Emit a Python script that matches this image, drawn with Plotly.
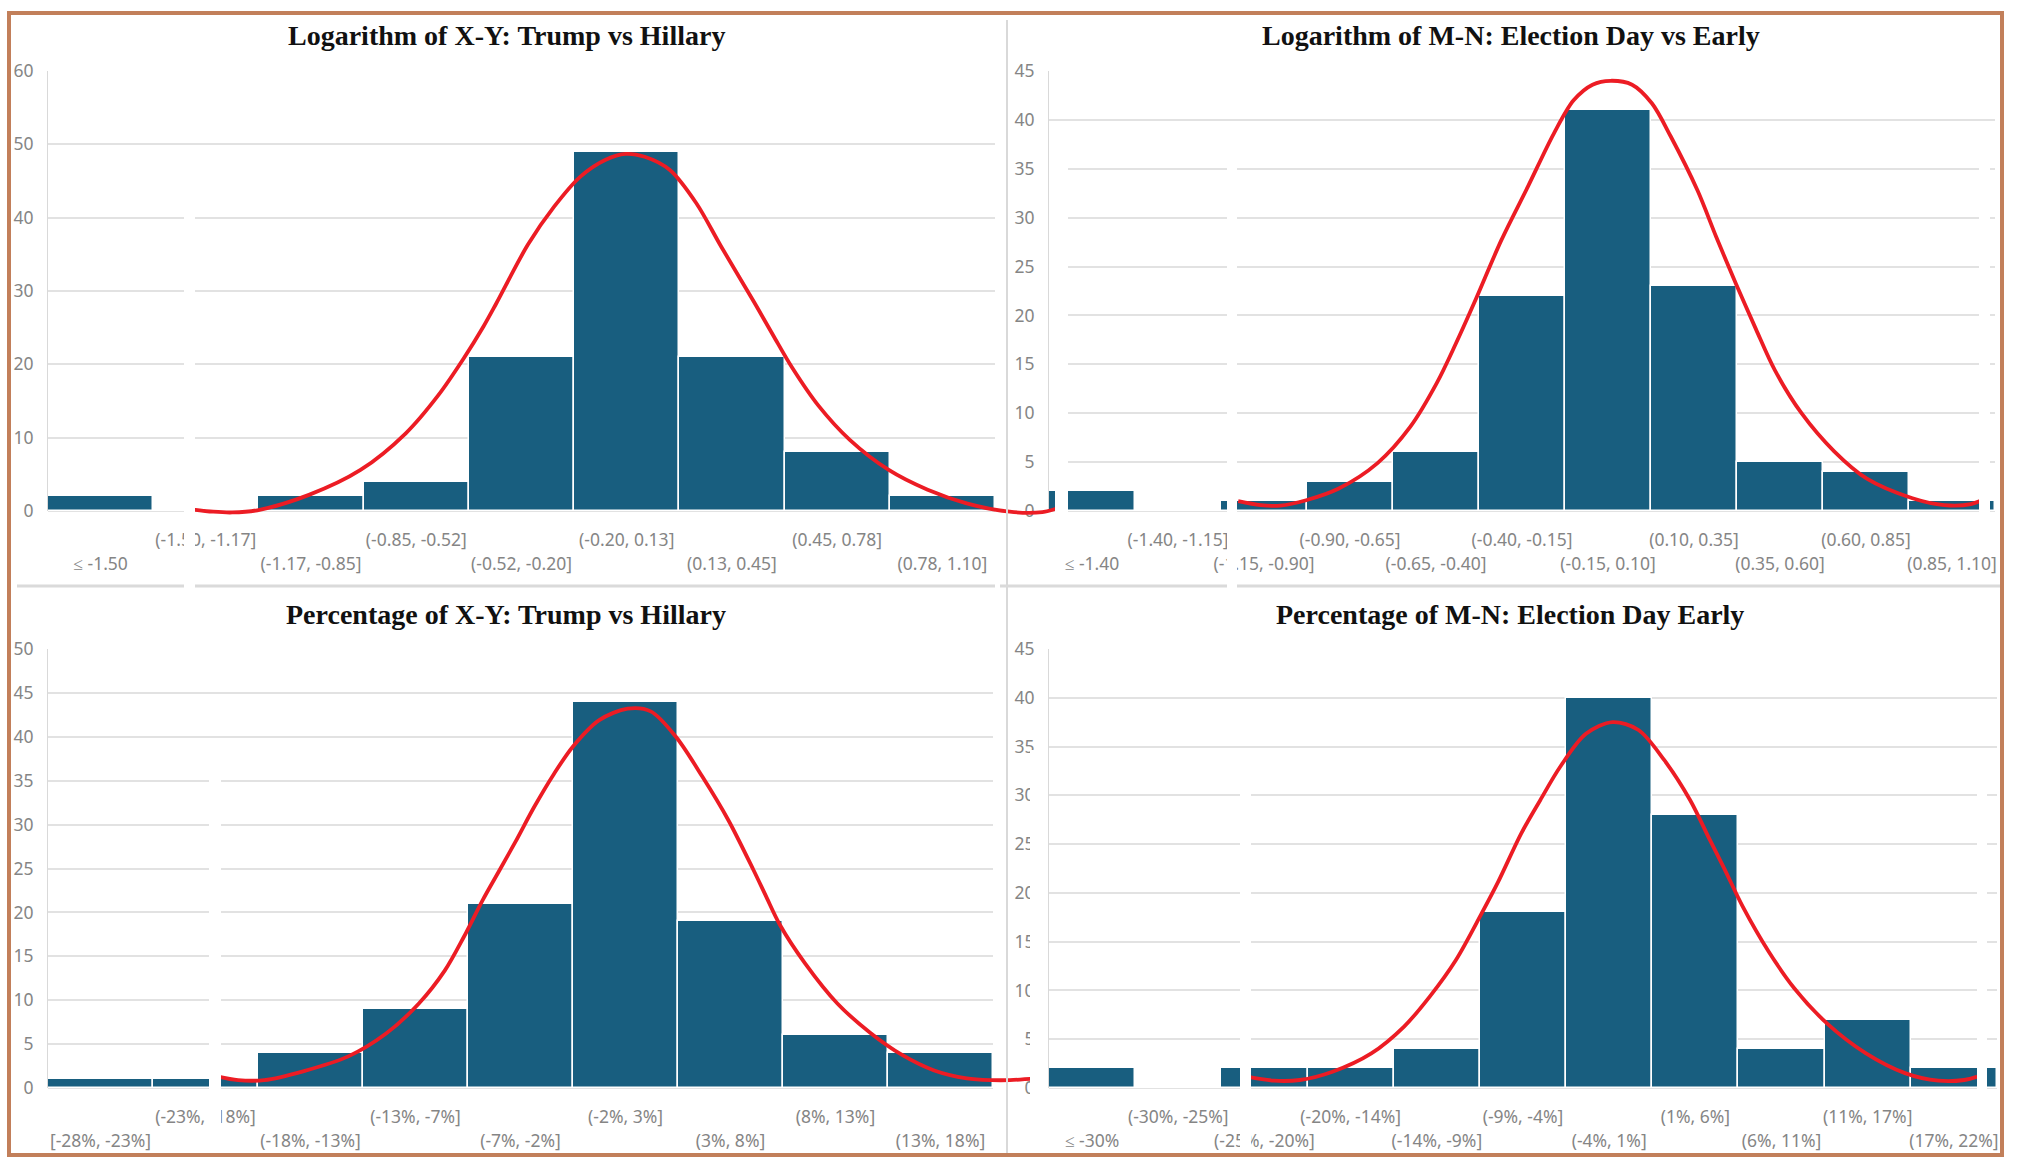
import plotly.graph_objects as go

W, H = 2018, 1157

# ---------------- data ----------------
tl_bins = ["≤ -1.50", "(-1.50, -1.17]", "(-1.17, -0.85]", "(-0.85, -0.52]", "(-0.52, -0.20]",
           "(-0.20, 0.13]", "(0.13, 0.45]", "(0.45, 0.78]", "(0.78, 1.10]"]
tl_counts = [2, 0, 2, 4, 21, 49, 21, 8, 2]
tl_curve_pos = [0.88, 1.07, 1.25, 1.49, 1.98, 2.47, 2.90, 3.21, 3.45, 3.64, 3.76, 4.06, 4.31, 4.56,
                4.80, 4.99, 5.17, 5.41, 5.66, 5.90, 6.21, 6.39, 6.57, 6.82, 7.12, 7.49, 7.86, 8.23,
                8.64, 8.95, 9.08]
tl_curve_cnt = [0.2, -0.1, -0.2, 0.1, 2.2, 5.6, 10.6, 15.8, 20.8, 25.2, 28.3, 36.3, 41.5, 45.6,
                47.9, 48.7, 48.3, 46.5, 42.0, 36.0, 28.5, 24.0, 19.6, 14.4, 9.7, 5.6, 2.9, 1.05,
                -0.1, -0.15, 0.3]

tr_bins = ["≤ -1.40", "(-1.40, -1.15]", "(-1.15, -0.90]", "(-0.90, -0.65]", "(-0.65, -0.40]",
           "(-0.40, -0.15]", "(-0.15, 0.10]", "(0.10, 0.35]", "(0.35, 0.60]", "(0.60, 0.85]",
           "(0.85, 1.10]"]
tr_counts = [2, 0, 1, 3, 6, 22, 41, 23, 5, 4, 1]
tr_curve_pos = [1.70, 1.96, 2.19, 2.49, 2.87, 3.32, 3.70, 4.01, 4.23, 4.46, 4.76, 5.07, 5.37, 5.60,
                5.82, 6.03, 6.28, 6.51, 6.73, 7.04, 7.26, 7.49, 7.72, 7.94, 8.25, 8.63, 9.01, 9.54,
                9.91, 10.22, 10.37]
tr_curve_cnt = [1.0, 0.6, 0.55, 1.1, 2.3, 4.9, 8.6, 13.1, 17.1, 21.6, 27.7, 33.2, 38.6, 42.0,
                43.6, 44.0, 43.6, 41.7, 38.3, 32.8, 28.0, 23.2, 18.6, 14.4, 10.0, 6.1, 3.3, 1.3,
                0.6, 0.7, 1.2]

bl_bins = ["[-28%, -23%]", "(-23%, -18%]", "(-18%, -13%]", "(-13%, -7%]", "(-7%, -2%]",
           "(-2%, 3%]", "(3%, 8%]", "(8%, 13%]", "(13%, 18%]"]
bl_counts = [1, 1, 4, 9, 21, 44, 19, 6, 4]
bl_curve_pos = [1.12, 1.31, 1.56, 1.93, 2.36, 2.72, 3.03, 3.28, 3.46, 3.64, 3.80, 3.95, 4.13, 4.32,
                4.50, 4.75, 5.02, 5.24, 5.48, 5.73, 5.98, 6.22, 6.34, 6.47, 6.71, 7.02, 7.33, 7.63,
                7.94, 8.25, 8.49, 8.66, 8.91]
bl_curve_cnt = [1.3, 0.9, 0.9, 1.9, 3.6, 6.2, 9.6, 13.4, 17.2, 21.4, 24.8, 28.0, 32.0, 35.8,
                38.9, 41.9, 43.2, 42.9, 40.0, 35.5, 30.5, 24.8, 21.8, 18.6, 14.2, 9.6, 6.3, 3.8,
                2.0, 1.1, 0.9, 0.9, 1.1]

br_bins = ["≤ -30%", "(-30%, -25%]", "(-25%, -20%]", "(-20%, -14%]", "(-14%, -9%]", "(-9%, -4%]",
           "(-4%, 1%]", "(1%, 6%]", "(6%, 11%]", "(11%, 17%]", "(17%, 22%]"]
br_counts = [2, 0, 2, 2, 4, 18, 40, 28, 4, 7, 2]
br_curve_pos = [1.80, 2.11, 2.41, 2.79, 3.24, 3.62, 3.92, 4.22, 4.52, 4.71, 4.98, 5.20, 5.43, 5.73,
                6.04, 6.34, 6.64, 6.94, 7.17, 7.33, 7.55, 7.85, 8.15, 8.53, 8.98, 9.44, 9.82,
                10.12, 10.27]
br_curve_cnt = [1.16, 0.75, 0.82, 1.67, 3.55, 6.3, 9.4, 13.1, 17.9, 21.1, 26.1, 29.5, 32.9, 36.3,
                37.5, 36.7, 33.6, 29.5, 25.4, 22.6, 18.6, 14.0, 10.2, 6.6, 3.55, 1.5, 0.75, 0.82,
                1.16]

titles = ["Logarithm of X-Y: Trump vs Hillary",
          "Logarithm of M-N: Election Day vs Early",
          "Percentage of X-Y: Trump vs Hillary",
          "Percentage of M-N: Election Day Early"]

# ---------------- styling / layout geometry (pixels) ----------------
BAR_COLOR = "#185e7f"
CURVE_COLOR = "#ec1c24"
GRID_COLOR = "#e2e2e2"
TICK_FONT = dict(family="Noto Sans", size=17.5, color="#858585")
TITLE_FONT = dict(family="Liberation Serif", size=28, color="#111111")

panels = [
    dict(bins=tl_bins, counts=tl_counts, cpos=tl_curve_pos, ccnt=tl_curve_cnt,
         box=(48, 995, 71, 511), ymax=60, dtick=10, curve_right=1062, title_xy=(506, 35)),
    dict(bins=tr_bins, counts=tr_counts, cpos=tr_curve_pos, ccnt=tr_curve_cnt,
         box=(1049, 1995, 71, 511), ymax=45, dtick=5, curve_right=1995, title_xy=(1511, 35)),
    dict(bins=bl_bins, counts=bl_counts, cpos=bl_curve_pos, ccnt=bl_curve_cnt,
         box=(48, 993, 649, 1088), ymax=50, dtick=5, curve_right=1040, title_xy=(506, 614)),
    dict(bins=br_bins, counts=br_counts, cpos=br_curve_pos, ccnt=br_curve_cnt,
         box=(1049, 1997, 649, 1088), ymax=45, dtick=5, curve_right=1997, title_xy=(1510, 614)),
]

UPPER_STANDOFF = 16   # first label row
LOWER_STANDOFF = 40   # second (staggered) label row
CURVE_EXT = 10        # extra room below the baseline for the curve subplot


def px_x(x):
    return x / W


def px_y(y):
    return 1 - y / H


fig = go.Figure()
layout_axes = {}

for i, p in enumerate(panels):
    k = i + 1          # bar subplot axes
    kc = i + 5         # curve subplot axes
    x0, x1, y0, y1 = p["box"]
    n = len(p["bins"])
    bw = (x1 - x0) / n
    ppu = (y1 - y0) / p["ymax"]
    positions = list(range(n))

    xa = "x" if k == 1 else f"x{k}"
    ya = "y" if k == 1 else f"y{k}"
    fig.add_trace(go.Bar(
        x=positions, y=p["counts"], xaxis=xa, yaxis=ya,
        marker=dict(color=BAR_COLOR, line=dict(color="white", width=1.5)),
        showlegend=False, hoverinfo="skip"))

    fig.add_trace(go.Scatter(
        x=p["cpos"], y=p["ccnt"], xaxis=f"x{kc}", yaxis=f"y{kc}", mode="lines",
        line=dict(color=CURVE_COLOR, width=3.8, shape="spline", smoothing=0.9),
        showlegend=False, hoverinfo="skip"))

    odd = positions[1::2]
    even = positions[0::2]

    layout_axes["xaxis" if k == 1 else f"xaxis{k}"] = dict(
        domain=[px_x(x0), px_x(x1)], range=[-0.5, n - 0.5], anchor=ya, automargin=False,
        tickmode="array", tickvals=odd, ticktext=[p["bins"][j] for j in odd],
        tickangle=0, ticks="", showgrid=False, zeroline=False, showline=False,
        tickfont=TICK_FONT, ticklabelstandoff=UPPER_STANDOFF, fixedrange=True)
    layout_axes["yaxis" if k == 1 else f"yaxis{k}"] = dict(
        domain=[px_y(y1), px_y(y0)], range=[0, p["ymax"]], dtick=p["dtick"], anchor=xa,
        automargin=False, showgrid=True, gridcolor=GRID_COLOR, gridwidth=2,
        zeroline=True, zerolinecolor=GRID_COLOR, zerolinewidth=2,
        showline=True, linecolor="#d9d9d9", linewidth=1,
        ticks="", tickfont=TICK_FONT, ticklabelstandoff=10, fixedrange=True)

    xr = p["curve_right"]
    layout_axes[f"xaxis{kc}"] = dict(
        domain=[px_x(x0), px_x(xr)], range=[-0.5, -0.5 + (xr - x0) / bw], anchor=f"y{kc}",
        automargin=False,
        tickmode="array", tickvals=even, ticktext=[p["bins"][j] for j in even],
        tickangle=0, ticks="", showgrid=False, zeroline=False, showline=False,
        tickfont=TICK_FONT, ticklabelstandoff=LOWER_STANDOFF - CURVE_EXT, fixedrange=True)
    layout_axes[f"yaxis{kc}"] = dict(
        domain=[px_y(y1 + CURVE_EXT), px_y(y0)], range=[-CURVE_EXT / ppu, p["ymax"]],
        anchor=f"x{kc}", automargin=False, visible=False, showgrid=False, zeroline=False,
        fixedrange=True)

annotations = []
for p, t in zip(panels, titles):
    tx, ty = p["title_xy"]
    annotations.append(dict(
        text=f"<b>{t}</b>", x=px_x(tx), y=px_y(ty), xref="paper", yref="paper",
        xanchor="center", yanchor="middle", showarrow=False, font=TITLE_FONT))

shapes = []
# light chart borders
shapes.append(dict(type="line", xref="paper", yref="paper", x0=px_x(1007), x1=px_x(1007),
                   y0=px_y(20), y1=px_y(H), line=dict(color="#d9d9d9", width=2), layer="above"))
for xa_, xb_ in [(17, 995), (1000, 2001)]:
    shapes.append(dict(type="line", xref="paper", yref="paper", x0=px_x(xa_), x1=px_x(xb_),
                       y0=px_y(586), y1=px_y(586), line=dict(color="#dadada", width=3),
                       layer="above"))
# seams between the pasted chart pieces
seams = [(184, 195, 180, 592), (1049, 1068, 145, 488), (1055, 1068, 488, 522),
         (1227, 1237, 145, 592), (1979, 1990, 145, 528),
         (209, 221, 760, 1154), (1030, 1048, 750, 1154), (1240, 1251, 750, 1154),
         (1977, 1987, 750, 1098)]
for sx0, sx1, sy0, sy1 in seams:
    shapes.append(dict(type="rect", xref="paper", yref="paper", x0=px_x(sx0), x1=px_x(sx1),
                       y0=px_y(sy1), y1=px_y(sy0), fillcolor="white", line=dict(width=0),
                       layer="above"))
# outer frame
shapes.append(dict(type="rect", xref="paper", yref="paper", x0=px_x(9), x1=px_x(2002),
                   y0=px_y(1155), y1=px_y(13), line=dict(color="#c27f5a", width=4),
                   fillcolor="rgba(0,0,0,0)", layer="above"))

fig.update_layout(
    width=W, height=H, margin=dict(l=0, r=0, t=0, b=0, autoexpand=False),
    paper_bgcolor="white", plot_bgcolor="rgba(0,0,0,0)",
    bargap=0, showlegend=False,
    annotations=annotations, shapes=shapes,
    **layout_axes)

fig.write_html("out.html", config={"displayModeBar": False})
